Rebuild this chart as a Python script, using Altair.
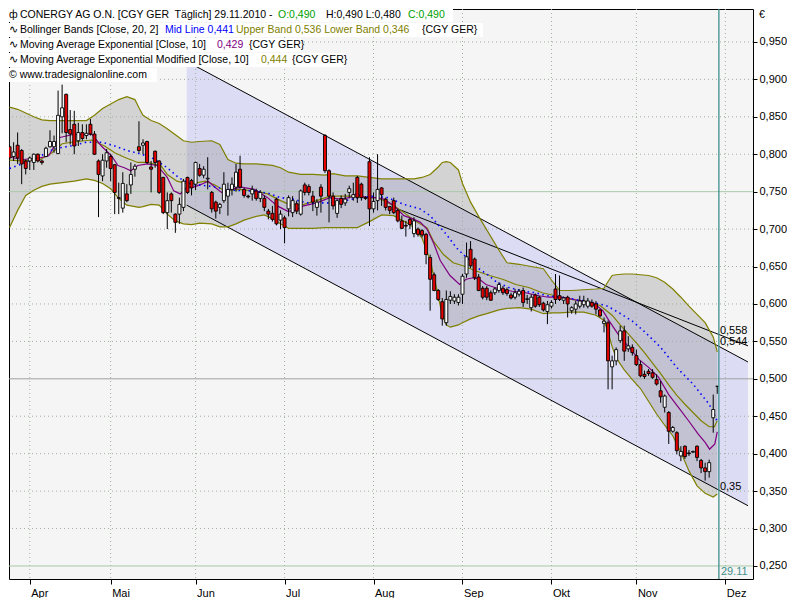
import altair as alt
import pandas as pd

# ---------------- data ----------------
idx = list(range(-5, 171))  # trading-day index, 0 = 1 Apr 2010, 170 = 29 Nov 2010
ohlc = [
    (.810, .812, .793, .795), (.797, .816, .791, .803), (.812, .829, .787, .795), (.805, .807, .760, .787),
    (.791, .793, .773, .781), (.791, .797, .779, .795), (.789, .801, .779, .800), (.800, .801, .789, .791),
    (.791, .793, .786, .789), (.797, .810, .796, .808), (.810, .832, .809, .817), (.810, .825, .802, .817),
    (.801, .885, .800, .852), (.850, .893, .828, .862), (.880, .881, .816, .829), (.833, .859, .813, .827),
    (.840, .858, .800, .811), (.818, .842, .811, .829), (.829, .840, .818, .821), (.825, .840, .820, .828),
    (.840, .847, .825, .827), (.827, .831, .799, .800), (.791, .793, .716, .773), (.771, .800, .764, .792),
    (.791, .807, .782, .802), (.797, .800, .764, .781), (.786, .787, .720, .749), (.742, .762, .720, .741),
    (.728, .776, .722, .761), (.747, .760, .736, .738), (.759, .789, .747, .773), (.780, .787, .770, .784),
    (.810, .844, .802, .805), (.812, .820, .800, .815), (.817, .818, .787, .789), (.783, .791, .749, .780),
    (.804, .805, .782, .789), (.791, .792, .747, .749), (.769, .770, .720, .722), (.722, .749, .700, .738),
    (.747, .749, .722, .738), (.720, .721, .695, .709), (.720, .742, .707, .733), (.729, .767, .724, .764),
    (.769, .770, .747, .749), (.765, .767, .745, .755), (.760, .790, .752, .789), (.781, .787, .770, .772),
    (.772, .784, .768, .780), (.767, .796, .753, .768), (.749, .751, .722, .727), (.736, .738, .714, .724),
    (.729, .735, .720, .733), (.738, .776, .735, .760), (.744, .762, .718, .753), (.753, .769, .745, .760),
    (.756, .787, .750, .776), (.780, .798, .754, .756), (.753, .755, .742, .745), (.744, .746, .741, .743),
    (.747, .758, .738, .753), (.751, .754, .738, .741), (.741, .752, .736, .749), (.741, .745, .724, .729),
    (.724, .727, .713, .720), (.721, .731, .710, .713), (.740, .742, .705, .707), (.712, .725, .700, .720),
    (.715, .718, .681, .702), (.727, .745, .717, .742), (.722, .744, .716, .738), (.734, .738, .720, .724),
    (.720, .753, .718, .751), (.759, .762, .745, .749), (.757, .760, .745, .749), (.744, .751, .724, .736),
    (.729, .740, .718, .736), (.756, .760, .722, .744), (.825, .827, .775, .778), (.778, .780, .709, .744),
    (.744, .749, .726, .731), (.721, .740, .715, .738), (.741, .745, .728, .733), (.735, .747, .731, .740),
    (.749, .758, .742, .754), (.742, .762, .738, .746), (.769, .771, .735, .742), (.760, .762, .738, .742),
    (.742, .744, .739, .741), (.790, .796, .704, .727), (.727, .749, .722, .737), (.738, .800, .725, .753),
    (.755, .756, .731, .746), (.740, .742, .725, .729), (.730, .731, .720, .725), (.738, .742, .720, .722),
    (.725, .727, .709, .711), (.711, .718, .700, .701), (.705, .711, .690, .704), (.713, .715, .700, .706),
    (.694, .716, .689, .711), (.700, .702, .690, .693), (.698, .700, .689, .692), (.693, .695, .653, .666),
    (.662, .666, .591, .633), (.639, .642, .617, .618), (.618, .620, .604, .606), (.603, .608, .571, .580),
    (.575, .618, .571, .606), (.605, .617, .600, .610), (.604, .613, .600, .609), (.602, .613, .598, .609),
    (.613, .640, .600, .637), (.640, .682, .635, .663), (.673, .684, .648, .651), (.660, .662, .632, .635),
    (.636, .640, .617, .618), (.621, .624, .606, .609), (.621, .624, .605, .609), (.615, .618, .604, .605),
    (.615, .622, .612, .620), (.618, .629, .615, .626), (.621, .624, .612, .615), (.619, .622, .611, .614),
    (.612, .615, .606, .608), (.609, .620, .606, .615), (.613, .620, .610, .617), (.618, .622, .596, .602),
    (.606, .612, .600, .607), (.595, .613, .590, .609), (.612, .614, .595, .597), (.609, .611, .596, .599),
    (.601, .603, .590, .592), (.590, .604, .573, .599), (.597, .605, .594, .602), (.620, .640, .600, .606),
    (.611, .638, .604, .606), (.605, .610, .600, .608), (.609, .611, .582, .600), (.591, .597, .587, .595),
    (.593, .604, .586, .600), (.597, .611, .594, .604), (.599, .611, .595, .604), (.597, .608, .594, .604),
    (.602, .606, .595, .597), (.600, .604, .586, .593), (.592, .593, .582, .584), (.574, .582, .562, .577),
    (.575, .578, .486, .524), (.516, .531, .486, .524), (.524, .542, .518, .539), (.551, .571, .548, .564),
    (.564, .571, .524, .537), (.540, .557, .536, .544), (.542, .546, .531, .535), (.531, .539, .517, .519),
    (.519, .524, .502, .504), (.506, .511, .500, .503), (.510, .513, .504, .507), (.508, .513, .500, .502),
    (.499, .506, .491, .493), (.484, .497, .468, .476), (.462, .479, .455, .477), (.455, .457, .413, .430),
    (.430, .437, .428, .435), (.428, .430, .399, .404), (.397, .410, .390, .403), (.410, .411, .393, .396),
    (.401, .405, .397, .400), (.402, .404, .401, .403), (.410, .411, .390, .395), (.391, .393, .374, .381),
    (.381, .388, .364, .376), (.376, .392, .368, .388), (.448, .479, .428, .459), (.490, .490, .480, .490),
]
opens = [r[0] for r in ohlc]
highs = [r[1] for r in ohlc]
lows = [r[2] for r in ohlc]
closes = [r[3] for r in ohlc]

# Bollinger bands (20, 2)
bb_x = [-5, -3, -1, 1, 3, 5, 8, 11, 14, 16, 18, 20, 22, 24, 26, 27, 28, 30, 32, 34, 36, 38, 40, 42, 45, 47,
        49, 51, 53, 56, 58, 60, 62, 64, 67, 70, 73, 75, 78, 81, 84, 87, 90, 93, 95, 97, 99, 100, 101, 102,
        103, 104, 106, 107, 109, 111, 113, 116, 118, 121, 124, 127, 129, 131, 134, 137, 140, 142, 143, 144,
        145, 147, 149, 151, 153, 155, 157, 159, 161, 163, 165, 167, 169, 170]
bb_upper = [.863, .860, .855, .850, .846, .845, .845, .845, .845, .852, .861, .867, .873, .877, .873, .862,
            .852, .845, .841, .834, .826, .818, .816, .817, .818, .813, .793, .788, .787, .787, .786, .785,
            .782, .776, .773, .773, .772, .774, .771, .771, .769, .767, .767, .767, .767, .769, .773, .778,
            .783, .789, .790, .789, .779, .761, .736, .717, .699, .672, .655, .653, .650, .647, .632, .618,
            .618, .619, .620, .621, .630, .638, .639, .640, .640, .639, .638, .635, .629, .620, .609, .597,
            .586, .575, .556, .536]
bb_lower = [.702, .725, .745, .752, .757, .760, .762, .764, .767, .765, .761, .754, .741, .732, .730, .729,
            .730, .733, .732, .720, .711, .707, .706, .708, .707, .703, .703, .707, .712, .717, .719, .714,
            .707, .701, .701, .701, .702, .702, .702, .702, .710, .719, .718, .709, .702, .688, .658, .635,
            .610, .585, .572, .569, .572, .575, .580, .584, .587, .592, .594, .595, .593, .587, .588, .588,
            .589, .589, .585, .578, .562, .543, .528, .512, .499, .487, .470, .453, .438, .424, .402, .377,
            .357, .347, .342, .346]

# Bollinger mid line (SMA 20)
mid_x = [-5, -2, 2, 6, 10, 14, 18, 21, 24, 27, 30, 34, 37, 40, 45, 50, 55, 59, 62, 65, 68.5, 72, 75, 78,
         81.5, 85, 88.5, 92.5, 96.5, 99, 103, 105.5, 108, 110.5, 113, 115.5, 118.5, 122, 125, 128, 131, 134,
         137, 140, 142.5, 145.5, 149, 152, 156, 160, 164, 168, 169.7, 170]
mid_v = [.781, .787, .796, .807, .811, .816, .816, .811, .805, .801, .796, .782, .768, .760, .757, .752, .751,
         .748, .742, .740, .735, .735, .735, .738, .742, .744, .742, .733, .727, .718, .693, .675, .662, .649,
         .640, .629, .622, .617, .615, .611, .609, .607, .604, .601, .598, .589, .577, .563, .542, .515, .493,
         .466, .448, .441]

# Moving Average Exponential (10)
ema_x = [-5, -1.8, 2.3, 4.7, 7.2, 10.4, 15.3, 17.7, 20.2, 21.8, 23.4, 25, 26.7, 29.1, 31.5, 34, 35.6, 37.2,
         38.9, 40.5, 42.5, 44.1, 45.8, 47.4, 49.8, 52.3, 55.5, 58.8, 61.2, 63.7, 65.3, 67.7, 71, 74.2, 76.7,
         79.1, 80.7, 83.2, 85.6, 87.6, 90.1, 92.5, 95, 96.6, 98.2, 99.8, 101.5, 103.9, 106.3, 107.9, 109.6,
         111.2, 112.8, 116.1, 119.3, 122.6, 125.9, 128.3, 130.7, 132.8, 136, 139.3, 141.7, 143.3, 145.8,
         148.2, 150.6, 153.1, 155.5, 158, 160.4, 162.9, 165.3, 167, 168.1, 169.4, 170]
ema_v = [.796, .793, .795, .798, .822, .826, .827, .811, .798, .785, .782, .778, .785, .787, .785, .769, .751,
         .747, .756, .756, .760, .764, .756, .749, .753, .756, .753, .742, .731, .724, .724, .731, .735, .742,
         .740, .742, .747, .742, .742, .740, .731, .718, .713, .709, .700, .682, .658, .638, .626, .633, .635,
         .633, .626, .620, .617, .615, .611, .609, .609, .608, .604, .602, .591, .577, .557, .542, .526, .515,
         .502, .479, .462, .444, .426, .415, .406, .413, .429]

# Moving Average Exponential Modified (10)
emm_x = [-5, -1.8, 2.3, 5.5, 8, 10.4, 15.3, 18.5, 21, 23.4, 26.7, 29.1, 32.4, 34, 36.4, 39.5, 43.4, 45.8,
         48.2, 51.5, 55.5, 58.8, 62, 64.5, 67.7, 71, 74.2, 77.5, 80, 83.2, 85.6, 87.6, 90.1, 92.5, 95.8, 98.2,
         99.8, 102.3, 104.7, 107.1, 110.4, 113.7, 116.9, 120.2, 123.4, 126.7, 130, 134, 138, 141, 144, 146,
         148, 150, 152, 154, 156, 158, 160, 162, 164, 166, 168, 169.3, 170]
emm_v = [.792, .791, .792, .802, .814, .816, .819, .811, .802, .796, .789, .789, .785, .773, .764, .760, .764,
         .759, .751, .753, .751, .747, .738, .732, .733, .738, .744, .744, .744, .742, .742, .738, .731, .722,
         .709, .702, .684, .666, .655, .651, .644, .638, .633, .626, .622, .615, .611, .606, .603, .598, .585,
         .572, .560, .548, .535, .521, .507, .492, .478, .466, .455, .444, .436, .436, .444]

# regression channel and trend line (end points)
ch_x = [38.8, 177.6]
ch_upper = [0.924, 0.5225]
ch_lower = [0.732, 0.3305]
tr_x = [90.5, 177.6]
tr_v = [0.728, 0.544]

month_idx = [0, 20, 41, 63, 85, 107, 129, 150, 172]
month_names = ["Apr", "Mai", "Jun", "Jul", "Aug", "Sep", "Okt", "Nov", "Dez"]
y_ticks = [0.25, 0.30, 0.35, 0.40, 0.45, 0.50, 0.55, 0.60, 0.65, 0.70, 0.75, 0.80, 0.85, 0.90, 0.95]
grid_dotted = [0.30, 0.35, 0.40, 0.45, 0.55, 0.60, 0.65, 0.70, 0.80, 0.85, 0.90, 0.95]
grid_green = [0.25, 0.75]
grid_gray = [0.50]
last_idx = 170.4
val_labels = ["0,558", "0,544", "0,35"]
val_label_v = [0.558, 0.544, 0.35]

# header legend rows: (text, x, y, colour)
header = [
    ("ф", 0, 6, "black"),
    ("CONERGY AG O.N. [CGY GER\u00a0 Täglich] 29.11.2010 -", 11, 6, "black"),
    ("O:0,490", 269, 6, "#00a000"),
    ("H:0,490 L:0,480", 317, 6, "black"),
    ("C:0,490", 399, 6, "#00a000"),
    ("∿", 0, 21, "black"),
    ("Bollinger Bands [Close, 20, 2]", 11, 21, "black"),
    ("Mid Line 0,441", 156, 21, "#0000ff"),
    ("Upper Band 0,536 Lower Band 0,346", 227, 21, "#808000"),
    ("{CGY GER}", 413, 21, "black"),
    ("∿", 0, 36, "black"),
    ("Moving Average Exponential [Close, 10]", 11, 36, "black"),
    ("0,429", 208, 36, "#800080"),
    ("{CGY GER}", 240, 36, "black"),
    ("∿", 0, 51, "black"),
    ("Moving Average Exponential Modified [Close, 10]", 11, 51, "black"),
    ("0,444", 252, 51, "#808000"),
    ("{CGY GER}", 283, 51, "black"),
    ("© www.tradesignalonline.com", 0, 66, "black"),
    ("€", 750, 6, "black"),
]
header_boxes = [(0, 444, 0, 13), (0, 474, 14, 28), (0, 292, 29, 43), (0, 336, 44, 58), (0, 148, 59, 73)]

FONT = "Liberation Sans"
X_DOM = [-3.9, 177.6]
Y_DOM = [0.2326, 0.994]

month_expr = " : ".join(f"datum.value == {v} ? '{n}'" for v, n in zip(month_idx, month_names)) + " : ''"

xs = alt.Scale(domain=X_DOM, nice=False, zero=False)
ys = alt.Scale(domain=Y_DOM, nice=False, zero=False)
X = lambda f: alt.X(f"{f}:Q", scale=xs, title=None)
Y = lambda f: alt.Y(f"{f}:Q", scale=ys, title=None)

candles = pd.DataFrame({"i": idx, "o": opens, "h": highs, "l": lows, "c": closes})
bb = pd.DataFrame({"i": bb_x, "u": bb_upper, "lo": bb_lower})
mid = pd.DataFrame({"i": mid_x, "v": mid_v})
ema = pd.DataFrame({"i": ema_x, "v": ema_v})
emm = pd.DataFrame({"i": emm_x, "v": emm_v})
ch = pd.DataFrame({"i": ch_x, "u": ch_upper, "lo": ch_lower})
tr = pd.DataFrame({"i": tr_x, "v": tr_v})

# channel fill (carries the axes)
chan_fill = alt.Chart(ch).mark_area(color="#dcdcf4", clip=True).encode(
    x=alt.X("i:Q", scale=xs, title=None, axis=alt.Axis(
        values=month_idx, labelExpr=month_expr, title=None, grid=False, domain=False,
        tickSize=5, tickColor="black", labelAlign="left", labelOffset=1, labelPadding=3,
        labelFont=FONT, labelFontSize=11, labelColor="black", labelFlush=False, labelOverlap=False)),
    y=alt.Y("u:Q", scale=ys, title=None, axis=alt.Axis(
        orient="right", values=y_ticks, labelExpr="replace(format(datum.value, '.3f'), '.', ',')",
        title=None, grid=False, domain=False, tickSize=4, tickColor="black", labelPadding=2,
        labelFont=FONT, labelFontSize=11, labelColor="black", labelFlush=False, labelOverlap=False)),
    y2="lo:Q",
)
bb_fill = alt.Chart(bb).mark_area(color="#8c8c8c", opacity=0.32, clip=True).encode(x=X("i"), y=Y("u"), y2="lo:Q")

g_dot = alt.Chart(pd.DataFrame({"v": grid_dotted})).mark_rule(
    color="#9fb09f", strokeDash=[1, 3], strokeWidth=1).encode(y=Y("v"))
g_vert = alt.Chart(pd.DataFrame({"i": month_idx})).mark_rule(
    color="#9fb09f", strokeDash=[1, 3], strokeWidth=1, clip=True).encode(x=X("i"))
g_green = alt.Chart(pd.DataFrame({"v": grid_green})).mark_rule(color="#a9c9a9", strokeWidth=1).encode(y=Y("v"))
g_gray = alt.Chart(pd.DataFrame({"v": grid_gray})).mark_rule(color="#a0a0a0", strokeWidth=1).encode(y=Y("v"))

ch_up = alt.Chart(ch).mark_line(color="black", strokeWidth=1, clip=True).encode(x=X("i"), y=Y("u"))
ch_lo = alt.Chart(ch).mark_line(color="black", strokeWidth=1, clip=True).encode(x=X("i"), y=Y("lo"))
tr_line = alt.Chart(tr).mark_line(color="black", strokeWidth=1, clip=True).encode(x=X("i"), y=Y("v"))

bb_up = alt.Chart(bb).mark_line(color="#808000", strokeWidth=1.2, clip=True).encode(x=X("i"), y=Y("u"))
bb_lo = alt.Chart(bb).mark_line(color="#808000", strokeWidth=1.2, clip=True).encode(x=X("i"), y=Y("lo"))
emm_line = alt.Chart(emm).mark_line(color="#808000", strokeWidth=1.2, clip=True).encode(x=X("i"), y=Y("v"))
ema_line = alt.Chart(ema).mark_line(color="#800080", strokeWidth=1.2, clip=True).encode(x=X("i"), y=Y("v"))
mid_line = alt.Chart(mid).mark_line(color="#0000ff", strokeWidth=1.6, strokeDash=[1.5, 3.5], clip=True).encode(
    x=X("i"), y=Y("v"))

wicks = alt.Chart(candles).mark_rule(color="black", strokeWidth=1, clip=True).encode(
    x=X("i"), y=Y("l"), y2="h:Q")
bodies = alt.Chart(candles).mark_bar(width=3, stroke="black", strokeWidth=0.9, clip=True).encode(
    x=X("i"), y=Y("o"), y2="c:Q",
    fill=alt.condition("datum.c >= datum.o", alt.value("white"), alt.value("#e60000")),
)

cyan = alt.Chart(pd.DataFrame({"i": [last_idx]})).mark_rule(color="#3f8f8f", strokeWidth=1.3).encode(x=X("i"))
date_lbl = alt.Chart(pd.DataFrame({"i": [last_idx], "t": ["29.11"]})).mark_text(
    align="left", baseline="middle", dx=2, font=FONT, fontSize=11, color="#3f8f8f").encode(
    x=X("i"), y=alt.value(563), text="t:N")
vl = alt.Chart(pd.DataFrame({"i": [last_idx] * 3, "v": val_label_v, "t": val_labels})).mark_text(
    align="left", baseline="bottom", dx=1, dy=1, font=FONT, fontSize=11, color="black").encode(
    x=X("i"), y=Y("v"), text="t:N")

box_layers = [
    alt.Chart(pd.DataFrame({"k": [0]})).mark_rect(color="white").encode(
        x=alt.value(x1), x2=alt.value(x2), y=alt.value(y1), y2=alt.value(y2))
    for (x1, x2, y1, y2) in header_boxes
]
text_layers = [
    alt.Chart(pd.DataFrame({"t": [t]})).mark_text(
        align="left", baseline="middle", font=FONT, fontSize=10.5, color=col).encode(
        x=alt.value(px), y=alt.value(py), text="t:N")
    for (t, px, py, col) in header
]

chart = alt.layer(
    chan_fill, bb_fill, g_dot, g_vert, g_green, g_gray,
    ch_up, ch_lo, tr_line, bb_up, bb_lo, emm_line, ema_line, mid_line,
    wicks, bodies, cyan, date_lbl, vl, *box_layers, *text_layers,
).properties(
    width=744, height=570, padding=0, background="white",
).configure_view(
    fill="#f5f5f5", stroke="black", strokeWidth=1,
).configure_axis(
    grid=False,
)

chart.save("out.html", embed_options={"renderer": "svg", "actions": False})
